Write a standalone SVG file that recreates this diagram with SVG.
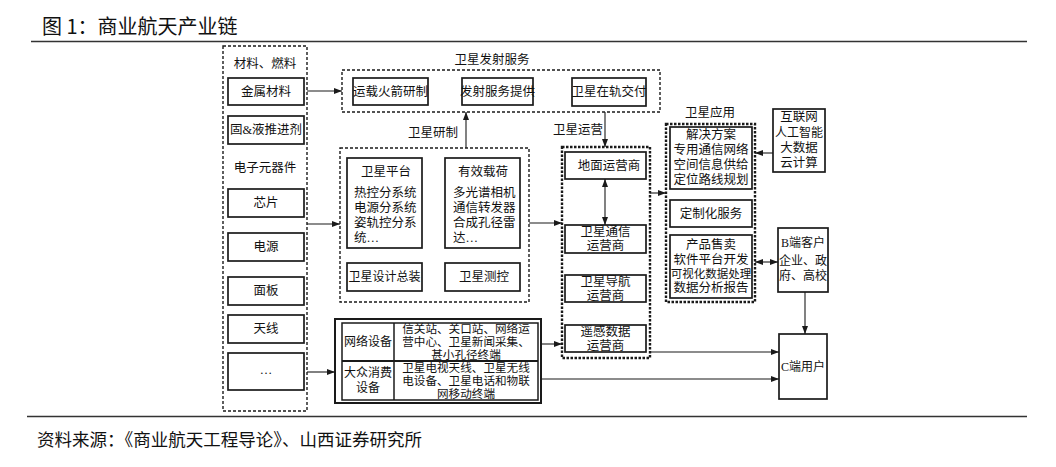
<svg xmlns="http://www.w3.org/2000/svg" width="1056" height="467" viewBox="0 0 1056 467">
<defs>
<style>
text{font-family:"Liberation Serif","Noto Sans CJK SC",serif;fill:#111;}
.h{font-family:"Noto Sans CJK SC","Noto Sans",sans-serif;}
.t{font-size:12.5px;text-anchor:middle;dominant-baseline:central;}
.s{font-size:12px;text-anchor:middle;dominant-baseline:central;}
.e{font-size:11.6px;text-anchor:middle;dominant-baseline:central;}
.l{font-size:12.5px;dominant-baseline:central;}
.box{fill:#fff;stroke:#1a1a1a;stroke-width:1.7;}
.dash{fill:none;stroke:#1a1a1a;stroke-width:1.4;stroke-dasharray:3 2;}
.dash2{fill:none;stroke:#1a1a1a;stroke-width:2.4;stroke-dasharray:2.5 1.5;}
.ln{fill:none;stroke:#1a1a1a;stroke-width:1.1;}
.rule{stroke:#333;stroke-width:1.6;}
</style>
<marker id="ah" viewBox="0 0 8 6" refX="8" refY="3" markerWidth="8" markerHeight="6" orient="auto-start-reverse" markerUnits="userSpaceOnUse"><path d="M0,0 L8,3 L0,6 z" fill="#1a1a1a"/></marker>
</defs>
<rect width="1056" height="467" fill="#fff"/>
<text class="h" x="42" y="34" style="font-size:20px">图 1：商业航天产业链</text>
<line class="rule" x1="31" y1="41.5" x2="1027" y2="41.5"/>
<line class="rule" x1="27" y1="416.5" x2="1027" y2="416.5"/>
<text class="h" x="37" y="446" style="font-size:17.5px">资料来源：《商业航天工程导论》、山西证券研究所</text>

<g id="materials">
<rect class="dash" x="223" y="46" width="84" height="365"/>
<text class="t" x="265" y="64">材料、燃料</text>
<rect class="box" x="228" y="78" width="76" height="27"/><text class="t" x="266" y="91.5">金属材料</text>
<rect class="box" x="228" y="116" width="76" height="28"/><text class="t" x="266" y="130">固&amp;液推进剂</text>
<text class="t" x="265" y="168">电子元器件</text>
<rect class="box" x="228" y="189" width="76" height="28"/><text class="t" x="266" y="203">芯片</text>
<rect class="box" x="228" y="233" width="76" height="28"/><text class="t" x="266" y="247">电源</text>
<rect class="box" x="228" y="277" width="76" height="28"/><text class="t" x="266" y="291">面板</text>
<rect class="box" x="228" y="315" width="76" height="28"/><text class="t" x="266" y="329">天线</text>
<rect class="box" x="228" y="353" width="76" height="37"/><text class="t" x="266" y="370">…</text>
</g>

<g id="launch">
<text class="t" x="492" y="60">卫星发射服务</text>
<rect class="dash" x="342" y="70" width="318" height="42"/>
<rect class="box" x="353" y="78" width="75" height="27"/><text class="t" x="390.5" y="91.5">运载火箭研制</text>
<rect class="box" x="462" y="78" width="71" height="27"/><text class="t" x="497.5" y="91.5">发射服务提供</text>
<rect class="box" x="572" y="78" width="74" height="28"/><text class="t" x="609" y="92">卫星在轨交付</text>
</g>

<g id="satellite-dev">
<text class="t" x="433" y="133">卫星研制</text>
<rect class="dash" x="340" y="148" width="189" height="154"/>
<rect class="box" x="347" y="158" width="75" height="90"/>
<text class="l"><tspan x="361" y="172">卫星平台</tspan><tspan x="354" y="193">热控分系统</tspan><tspan x="354" y="208">电源分系统</tspan><tspan x="354" y="223">姿轨控分系</tspan><tspan x="354" y="238">统…</tspan></text>
<rect class="box" x="445" y="158" width="75" height="90"/>
<text class="l"><tspan x="458" y="172">有效载荷</tspan><tspan x="453" y="193">多光谱相机</tspan><tspan x="453" y="208">通信转发器</tspan><tspan x="453" y="223">合成孔径雷</tspan><tspan x="453" y="238">达…</tspan></text>
<rect class="box" x="347" y="263" width="75" height="28"/><text class="s" x="384.5" y="277">卫星设计总装</text>
<rect class="box" x="445" y="263" width="75" height="28"/><text class="t" x="484" y="277">卫星测控</text>
</g>

<g id="operations">
<text class="t" x="578" y="130">卫星运营</text>
<rect class="dash2" x="562" y="147" width="88" height="211"/>
<rect class="box" x="565" y="152" width="81" height="27"/><text class="t" x="609" y="165.5">地面运营商</text>
<rect class="box" x="565" y="225" width="81" height="28"/><text class="t"><tspan x="605.5" y="232">卫星通信</tspan><tspan x="605.5" y="246">运营商</tspan></text>
<rect class="box" x="565" y="275" width="81" height="27"/><text class="t"><tspan x="605.5" y="281.5">卫星导航</tspan><tspan x="605.5" y="295.5">运营商</tspan></text>
<rect class="box" x="565" y="325" width="81" height="27"/><text class="t"><tspan x="605.5" y="331.5">遥感数据</tspan><tspan x="605.5" y="345.5">运营商</tspan></text>
</g>

<g id="application">
<text class="t" x="710" y="113">卫星应用</text>
<rect class="dash2" x="666" y="124" width="89" height="178"/>
<rect class="box" x="670" y="127" width="82" height="62"/>
<text class="t"><tspan x="711" y="135">解决方案</tspan><tspan x="711" y="150">专用通信网络</tspan><tspan x="711" y="165">空间信息供给</tspan><tspan x="711" y="180">定位路线规划</tspan></text>
<rect class="box" x="670" y="200" width="82" height="27"/><text class="t" x="711" y="213.5">定制化服务</text>
<rect class="box" x="670" y="235" width="82" height="63"/>
<text class="t"><tspan x="711" y="245">产品售卖</tspan><tspan x="711" y="260">软件平台开发</tspan><tspan x="711" y="274" style="font-size:11.5px">可视化数据处理</tspan><tspan x="711" y="288">数据分析报告</tspan></text>
</g>

<g id="tech">
<rect class="box" x="773" y="109" width="52" height="63"/>
<text class="t"><tspan x="799" y="117">互联网</tspan><tspan x="799" y="133" style="font-size:12px">人工智能</tspan><tspan x="799" y="148">大数据</tspan><tspan x="799" y="163">云计算</tspan></text>
</g>

<g id="b-client">
<rect class="box" x="778" y="228" width="50" height="64"/>
<text class="s"><tspan x="803" y="243">B端客户</tspan><tspan x="803" y="261">企业、政</tspan><tspan x="803" y="276">府、高校</tspan></text>
</g>

<g id="c-user">
<rect class="box" x="779" y="334" width="48" height="65"/>
<text class="s" x="803" y="367">C端用户</text>
</g>

<g id="equipment">
<rect fill="#fff" stroke="#1a1a1a" stroke-width="2" x="335" y="319" width="206" height="84"/>
<rect fill="none" stroke="#1a1a1a" stroke-width="1.5" x="342" y="323" width="196" height="77"/>
<line class="ln" x1="394" y1="323" x2="394" y2="400" style="stroke-width:1.5"/>
<line class="ln" x1="342" y1="361" x2="538" y2="361" style="stroke-width:1.8"/>
<text class="s" x="368" y="342">网络设备</text>
<text class="e"><tspan x="466" y="329">信关站、关口站、网络运</tspan><tspan x="466" y="342">营中心、卫星新闻采集、</tspan><tspan x="466" y="355">甚小孔径终端</tspan></text>
<text class="s"><tspan x="368" y="373">大众消费</tspan><tspan x="368" y="388">设备</tspan></text>
<text class="e"><tspan x="466" y="368">卫星电视天线、卫星无线</tspan><tspan x="466" y="381">电设备、卫星电话和物联</tspan><tspan x="466" y="394">网移动终端</tspan></text>
</g>

<g id="connectors">
<line class="ln" x1="307" y1="91" x2="342" y2="91" marker-end="url(#ah)"/>
<line class="ln" x1="307" y1="224" x2="340" y2="224" marker-end="url(#ah)"/>
<line class="ln" x1="307" y1="372" x2="335" y2="372" marker-end="url(#ah)"/>
<line class="ln" x1="466" y1="148" x2="466" y2="112" marker-end="url(#ah)"/>
<line class="ln" x1="605" y1="112" x2="605" y2="147" marker-end="url(#ah)"/>
<line class="ln" x1="529" y1="223" x2="562" y2="223" marker-end="url(#ah)"/>
<line class="ln" x1="605" y1="179" x2="605" y2="225" marker-start="url(#ah)" marker-end="url(#ah)"/>
<line class="ln" x1="650" y1="193" x2="666" y2="193" marker-end="url(#ah)"/>
<line class="ln" x1="773" y1="153" x2="755" y2="153" marker-end="url(#ah)"/>
<line class="ln" x1="755" y1="262" x2="778" y2="262" marker-start="url(#ah)" marker-end="url(#ah)"/>
<line class="ln" x1="805" y1="292" x2="805" y2="334" marker-end="url(#ah)"/>
<line class="ln" x1="650" y1="352" x2="779" y2="352" marker-end="url(#ah)"/>
<line class="ln" x1="541" y1="344" x2="562" y2="344" marker-end="url(#ah)"/>
<line class="ln" x1="541" y1="379" x2="779" y2="379" marker-end="url(#ah)"/>
</g>
</svg>
